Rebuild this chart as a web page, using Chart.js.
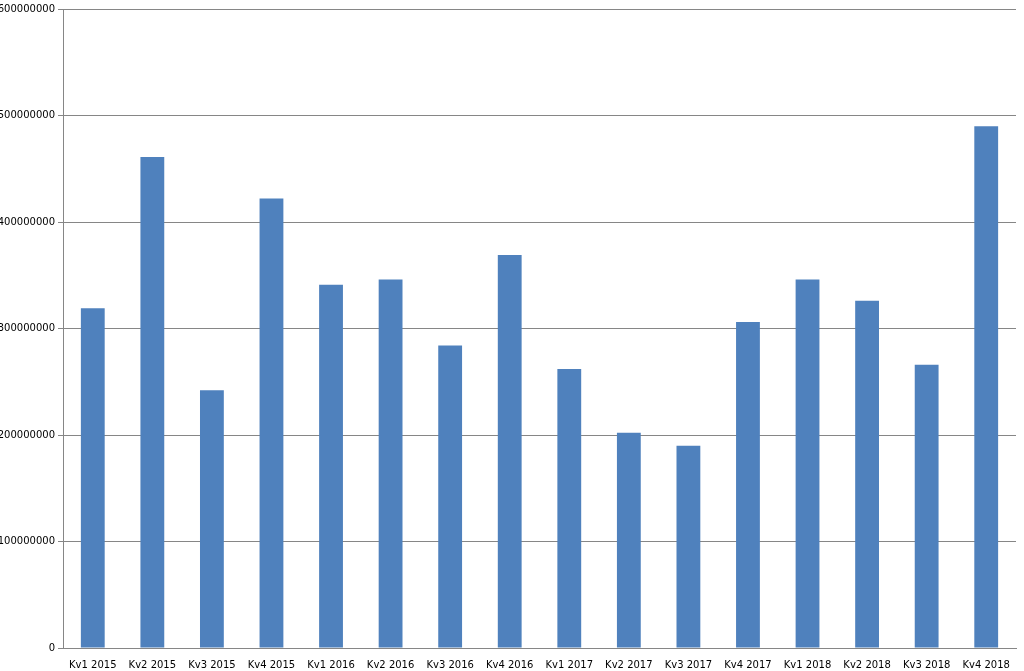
<!DOCTYPE html>
<html><head><meta charset="utf-8">
<script src="https://cdn.jsdelivr.net/npm/chart.js"></script>
<style>html,body{margin:0;padding:0;background:#fff}#w{width:1024px;height:671px}</style>
</head><body><div id="w"><canvas id="c"></canvas></div>
<script>
const categories=["Kv1 2015","Kv2 2015","Kv3 2015","Kv4 2015","Kv1 2016","Kv2 2016","Kv3 2016","Kv4 2016","Kv1 2017","Kv2 2017","Kv3 2017","Kv4 2017","Kv1 2018","Kv2 2018","Kv3 2018","Kv4 2018"];
const values=[319000000,461000000,242000000,422000000,341000000,346000000,284000000,369000000,262000000,202000000,190000000,306000000,346000000,326000000,266000000,490000000];
const yTicks=[0,100000000,200000000,300000000,400000000,500000000,600000000];
new Chart(document.getElementById('c'),{type:'bar',
data:{labels:categories,datasets:[{data:values,backgroundColor:'#4f81bd',barPercentage:0.4,categoryPercentage:1}]},
options:{responsive:true,maintainAspectRatio:false,animation:false,
layout:{padding:{top:5,right:8,left:0,bottom:0}},
plugins:{legend:{display:false},tooltip:{enabled:false}},
scales:{
x:{grid:{display:false},border:{color:'#868686'},ticks:{color:'#000',font:{family:'DejaVu Sans',size:10},maxRotation:0,autoSkip:false},afterFit:s=>{s.height=23;}},
y:{min:0,max:600000000,afterBuildTicks:s=>{s.ticks=yTicks.map(v=>({value:v}));},
grid:{color:'#868686',drawTicks:true,tickLength:5},border:{color:'#868686'},
ticks:{color:'#000',font:{family:'DejaVu Sans',size:10},callback:v=>String(v)},afterFit:s=>{s.width=63;}}
}}});
</script></body></html>
